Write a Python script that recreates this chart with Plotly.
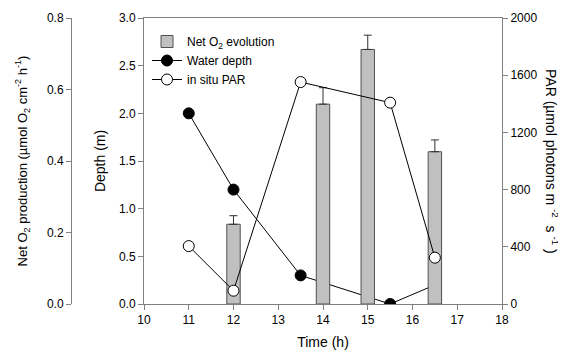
import plotly.graph_objects as go

# Data
bar_time = [12, 14, 15, 16.5]
net_o2 = [0.223, 0.559, 0.712, 0.426]
net_o2_err = [0.024, 0.046, 0.040, 0.033]

pt_time = [11, 12, 13.5, 15.5, 16.5]
water_depth = [2.0, 1.2, 0.30, 0.0, 0.2]
par = [405, 93, 1552, 1408, 324]

FONT = "Liberation Sans, Arial, sans-serif"
AX = "#808080"
W, H = 558, 350
OFF = 8  # page body margin
NB = "\u00a0"


def px(x):
    return (x - OFF) / W


def py(y):
    return 1 - (y - OFF) / H


fig = go.Figure()
fig.add_trace(go.Bar(
    x=bar_time, y=net_o2, yaxis="y2", width=0.3,
    name="Net O<sub>2</sub> evolution",
    marker=dict(color="#c0c0c0", line=dict(color="#505050", width=1)),
    error_y=dict(type="data", array=net_o2_err, symmetric=False, arrayminus=[0]*4,
                 color="#303030", thickness=1, width=4),
))
fig.add_trace(go.Scatter(
    x=pt_time, y=water_depth, yaxis="y", mode="lines+markers",
    name="Water depth",
    line=dict(color="black", width=1),
    marker=dict(color="black", size=11, line=dict(color="black", width=1)),
))
fig.add_trace(go.Scatter(
    x=pt_time, y=par, yaxis="y3", mode="lines+markers",
    name="in situ PAR",
    line=dict(color="black", width=1),
    marker=dict(color="white", size=11, line=dict(color="black", width=1)),
))

xd = [px(144), px(502)]
yd = [py(304), py(18)]

common = dict(showgrid=False, zeroline=False, showline=True, linecolor=AX, linewidth=1,
              ticks="outside", tickcolor=AX, ticklen=5, automargin=False,
              tickfont=dict(family=FONT, size=12, color="black"))

fig.update_layout(
    width=W, height=H,
    margin=dict(l=0, r=0, t=0, b=0, autoexpand=False),
    paper_bgcolor="white", plot_bgcolor="white",
    font=dict(family=FONT, size=12, color="black"),
    showlegend=True,
    legend=dict(x=px(147), y=py(27), xanchor="left", yanchor="top",
                bgcolor="rgba(0,0,0,0)", font=dict(family=FONT, size=12),
                tracegroupgap=0),
    xaxis=dict(domain=xd, range=[10, 18], tickvals=list(range(10, 19)), mirror=True,
               title=dict(text="Time (h)", font=dict(family=FONT, size=14), standoff=10),
               **common),
    yaxis=dict(domain=yd, range=[0, 3], tickvals=[0, 0.5, 1, 1.5, 2, 2.5, 3],
               tickformat=".1f", anchor="x",
               title=dict(text="Depth (m)", font=dict(family=FONT, size=14), standoff=10),
               **common),
    yaxis2=dict(range=[0, 0.8], tickvals=[0, 0.2, 0.4, 0.6, 0.8], tickformat=".1f",
                overlaying="y", side="left", anchor="free", position=px(71),
                title=dict(text="Net O<sub>2</sub> production (µmol O<sub>2</sub> cm<sup>-2</sup> h<sup>-1</sup>)",
                           font=dict(family=FONT, size=13), standoff=15),
                **common),
    yaxis3=dict(range=[0, 2000], tickvals=[0, 400, 800, 1200, 1600, 2000],
                overlaying="y", side="right", anchor="x",
                **common),
    annotations=[dict(
        text=f"PAR (µmol photons m{NB}<sup>-2</sup>{NB}{NB}s{NB}<sup>-1</sup>{NB})",
        xref="paper", yref="paper", x=px(552), y=py(161),
        xanchor="center", yanchor="middle", textangle=90, showarrow=False,
        font=dict(family=FONT, size=14, color="black"),
    )],
)

fig.write_html("out.html")
